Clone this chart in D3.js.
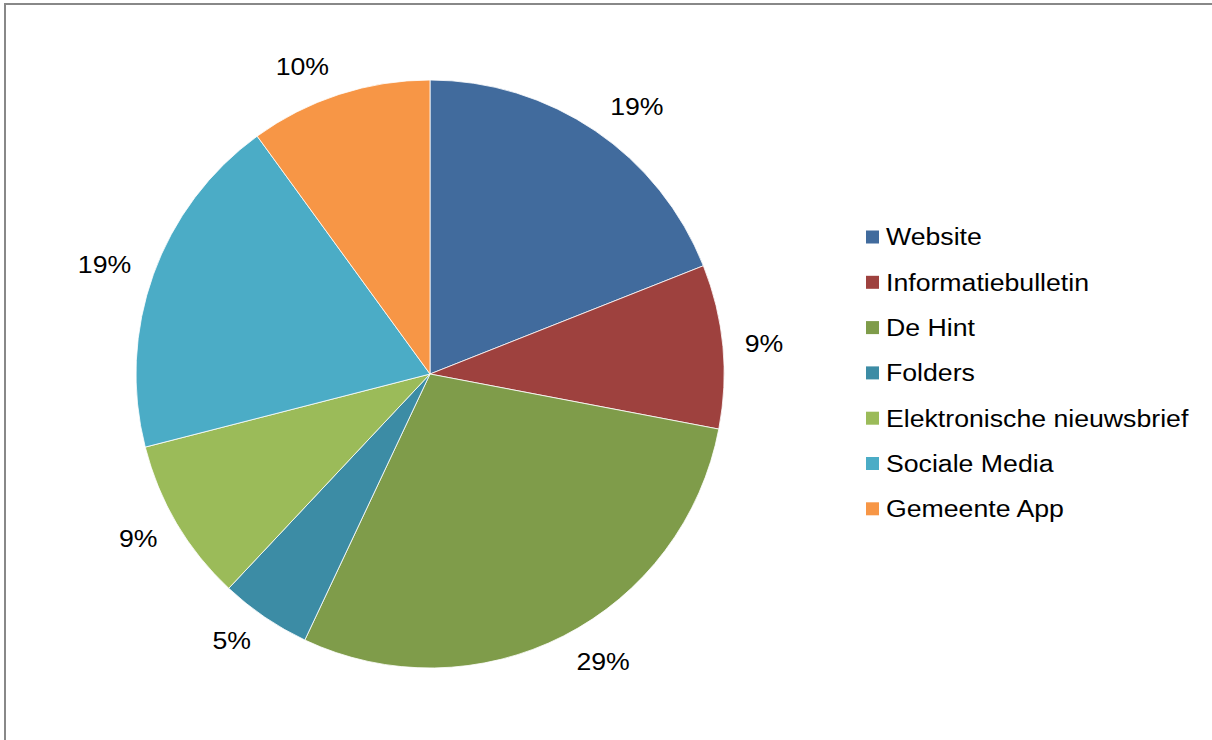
<!DOCTYPE html>
<html>
<head>
<meta charset="utf-8">
<script src="https://cdn.jsdelivr.net/npm/d3@7/dist/d3.min.js"></script>
<style>
  html, body { margin: 0; padding: 0; background: #fff; }
  svg { display: block; }
  text { font-family: "Liberation Sans", Arial, sans-serif; fill: #000; }
</style>
</head>
<body>
<svg id="chart" width="1212" height="740"></svg>
<script>
// Kanalen en aandeel (%)
const categories = ["Website", "Informatiebulletin", "De Hint", "Folders",
                    "Elektronische nieuwsbrief", "Sociale Media", "Gemeente App"];
const shares = [19, 9, 29, 5, 9, 19, 10];
const colors = ["#416B9D", "#9E413E", "#7F9C4A", "#3C8CA5", "#9BBB59", "#4BACC6", "#F79646"];

const svg = d3.select("#chart");
const W = 1212, H = 740;
const FONT = "23px";
const STRETCH = 1.16;   // wide text rendering

// chart frame
svg.append("rect")
  .attr("x", 5).attr("y", 4)
  .attr("width", W + 10).attr("height", H + 10)
  .attr("fill", "#fff")
  .attr("stroke", "#888").attr("stroke-width", 2);

const cx = 430, cy = 374, R = 294;
const data = categories.map((c, i) => ({ name: c, value: shares[i], color: colors[i] }));

const pie = d3.pie().value(d => d.value).sort(null);
const arc = d3.arc().innerRadius(0).outerRadius(R);
const anchorR = 313;

const g = svg.append("g").attr("transform", `translate(${cx},${cy})`);
const arcs = pie(data);

g.selectAll("path.slice")
  .data(arcs)
  .join("path")
  .attr("class", "slice")
  .attr("d", arc)
  .attr("fill", d => d.data.color)
  .attr("stroke", "#fff")
  .attr("stroke-width", 0.8);

// percentage labels placed outside the slice end, box pushed away from the pie
const labels = g.selectAll("g.pct")
  .data(arcs)
  .join("g")
  .attr("class", "pct");

labels.append("text")
  .attr("text-anchor", "middle")
  .attr("dominant-baseline", "central")
  .attr("transform", `scale(${STRETCH},1)`)
  .style("font-size", FONT)
  .text(d => d.data.value + "%");

labels.attr("transform", function (d) {
  const a = (d.startAngle + d.endAngle) / 2;
  const bb = this.getBBox();
  const w = bb.width * STRETCH, h = bb.height * 0.75;
  const s = Math.sin(a), c = -Math.cos(a);
  const x = anchorR * s + Math.sign(s) * w / 2;
  const y = anchorR * c + c * h / 2;
  return `translate(${x},${y})`;
});

// legend
const legend = svg.append("g").attr("transform", "translate(866,237)");
const rowStep = 45.3;
const rows = legend.selectAll("g.row")
  .data(data)
  .join("g")
  .attr("class", "row")
  .attr("transform", (d, i) => `translate(0,${i * rowStep})`);

rows.append("rect")
  .attr("x", 0).attr("y", -6.5)
  .attr("width", 13).attr("height", 13)
  .attr("fill", d => d.color);

rows.append("text")
  .attr("transform", `translate(20,0) scale(${STRETCH},1)`)
  .attr("dominant-baseline", "central")
  .style("font-size", FONT)
  .text(d => d.name);
</script>
</body>
</html>
